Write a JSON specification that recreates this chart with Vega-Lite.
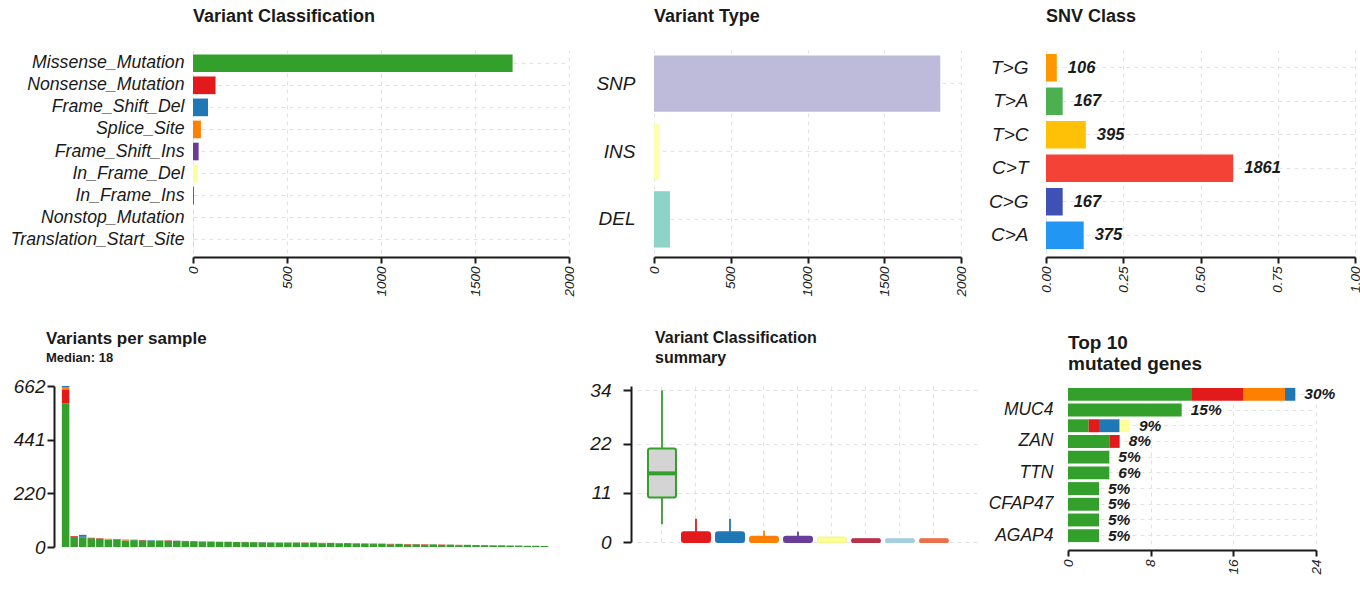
{
  "$schema": "https://vega.github.io/schema/vega-lite/v6.json",
  "background": "white",
  "padding": {"left": 10, "top": 8, "right": 0, "bottom": 0},
  "config": {
    "font": "Liberation Sans",
    "view": {"stroke": null},
    "axis": {"labelFont": "Liberation Sans", "labelFontStyle": "italic", "labelColor": "#1a1a1a", "labelFontSize": 17, "domainColor": "#1a1a1a", "tickColor": "#1a1a1a", "gridColor": "#e2e2e2", "gridDash": [4, 4], "gridWidth": 1},
    "title": {"anchor": "start", "frame": "group", "fontSize": 18, "fontWeight": "bold", "color": "#1a1a1a", "font": "Liberation Sans", "subtitleFont": "Liberation Sans", "subtitleFontWeight": "bold", "subtitleFontSize": 13, "subtitleColor": "#1a1a1a", "subtitlePadding": 4},
    "bar": {"stroke": null}
  },
  "concat": [
    {
      "hconcat": [
        {
          "width": 47,
          "height": 203,
          "data": {"values": []},
          "mark": "point",
          "encoding": {}
        },
        {
          "title": {"text": "Variant Classification", "offset": 24},
          "width": 376,
          "height": 203,
          "data": {"values": [
            {"cls": "Missense_Mutation", "n": 1700},
            {"cls": "Nonsense_Mutation", "n": 120},
            {"cls": "Frame_Shift_Del", "n": 80},
            {"cls": "Splice_Site", "n": 42},
            {"cls": "Frame_Shift_Ins", "n": 30},
            {"cls": "In_Frame_Del", "n": 25},
            {"cls": "In_Frame_Ins", "n": 5},
            {"cls": "Nonstop_Mutation", "n": 1},
            {"cls": "Translation_Start_Site", "n": 1}
          ]},
          "mark": "bar",
          "encoding": {
            "y": {"field": "cls", "type": "nominal", "sort": null, "scale": {"paddingInner": 0.2, "paddingOuter": 0.2}, "axis": {"title": null, "domain": false, "ticks": false, "labelPadding": 9, "labelFontSize": 17.7, "grid": true, "bandPosition": 0.5}},
            "x": {"field": "n", "type": "quantitative", "scale": {"domain": [0, 2000]}, "axis": {"title": null, "values": [0, 500, 1000, 1500, 2000], "format": "d", "labelAngle": -90, "labelFontSize": 13.5, "offset": 4, "grid": true, "domainWidth": 2, "tickSize": 6, "tickWidth": 2, "labelPadding": 3}},
            "color": {"field": "cls", "type": "nominal", "legend": null, "scale": {"domain": ["Missense_Mutation", "Nonsense_Mutation", "Frame_Shift_Del", "Splice_Site", "Frame_Shift_Ins", "In_Frame_Del", "In_Frame_Ins", "Nonstop_Mutation", "Translation_Start_Site"], "range": ["#33A02C", "#E31A1C", "#1F78B4", "#FF7F00", "#6A3D9A", "#FFFF99", "#B83249", "#A6CEE3", "#E8704A"]}}
          }
        },
        {
          "title": {"text": "Variant Type", "offset": 24},
          "width": 307,
          "height": 203,
          "data": {"values": [
            {"type": "SNP", "n": 1865},
            {"type": "INS", "n": 37},
            {"type": "DEL", "n": 104}
          ]},
          "mark": "bar",
          "encoding": {
            "y": {"field": "type", "type": "nominal", "sort": null, "scale": {"paddingInner": 0.17, "paddingOuter": 0.08}, "axis": {"title": null, "domain": false, "ticks": false, "labelPadding": 19, "labelFontSize": 19, "grid": true, "bandPosition": 0.5}},
            "x": {"field": "n", "type": "quantitative", "scale": {"domain": [0, 2000]}, "axis": {"title": null, "values": [0, 500, 1000, 1500, 2000], "format": "d", "labelAngle": -90, "labelFontSize": 13.5, "offset": 4, "grid": true, "domainWidth": 2, "tickSize": 6, "tickWidth": 2, "labelPadding": 3}},
            "color": {"field": "type", "type": "nominal", "legend": null, "scale": {"domain": ["SNP", "INS", "DEL"], "range": ["#BEBADA", "#FFFFB3", "#8DD3C7"]}}
          }
        },
        {
          "title": {"text": "SNV Class", "offset": 24},
          "width": 309,
          "height": 203,
          "data": {"values": [
            {"snv": "T>G", "n": 106, "frac": 0.035},
            {"snv": "T>A", "n": 167, "frac": 0.054},
            {"snv": "T>C", "n": 395, "frac": 0.129},
            {"snv": "C>T", "n": 1861, "frac": 0.606},
            {"snv": "C>G", "n": 167, "frac": 0.054},
            {"snv": "C>A", "n": 375, "frac": 0.122}
          ]},
          "encoding": {
            "y": {"field": "snv", "type": "nominal", "sort": null, "scale": {"paddingInner": 0.18, "paddingOuter": 0.12}, "axis": {"title": null, "domain": false, "ticks": false, "labelPadding": 18, "labelFontSize": 19, "grid": true, "bandPosition": 0.5}},
            "x": {"field": "frac", "type": "quantitative", "scale": {"domain": [0, 1]}, "axis": {"title": null, "values": [0, 0.25, 0.5, 0.75, 1], "format": ".2f", "labelAngle": -90, "labelFontSize": 13.5, "offset": 4, "grid": true, "domainWidth": 2, "tickSize": 6, "tickWidth": 2, "labelPadding": 3}}
          },
          "layer": [
            {
              "mark": "bar",
              "encoding": {
                "color": {"field": "snv", "type": "nominal", "legend": null, "scale": {"domain": ["T>G", "T>A", "T>C", "C>T", "C>G", "C>A"], "range": ["#FF9800", "#4CAF50", "#FFC107", "#F44336", "#3F51B5", "#2196F3"]}}
              }
            },
            {
              "mark": {"type": "text", "align": "left", "dx": 11, "fontSize": 16.5, "fontWeight": "bold", "fontStyle": "italic", "color": "#1a1a1a"},
              "encoding": {"text": {"field": "n", "type": "quantitative"}}
            }
          ]
        }
      ],
      "spacing": 85,
      "bounds": "flush",
      "resolve": {"scale": {"color": "independent"}}
    },
    {
      "hconcat": [
        {
          "title": {"text": "Variants per sample", "subtitle": "Median: 18", "offset": 11, "dx": -15, "fontSize": 17},
          "width": 488,
          "height": 161,
          "data": {"values": [
            {"s": 1, "Missense_Mutation": 590, "Nonsense_Mutation": 58, "Splice_Site": 8, "Frame_Shift_Del": 6},
            {"s": 2, "Missense_Mutation": 42, "Nonsense_Mutation": 3},
            {"s": 3, "Missense_Mutation": 40, "Nonsense_Mutation": 2, "Frame_Shift_Del": 8},
            {"s": 4, "Missense_Mutation": 36, "Nonsense_Mutation": 2},
            {"s": 5, "Missense_Mutation": 34, "Nonsense_Mutation": 2},
            {"s": 6, "Missense_Mutation": 30, "Splice_Site": 4},
            {"s": 7, "Missense_Mutation": 31, "Nonsense_Mutation": 2},
            {"s": 8, "Missense_Mutation": 27, "Splice_Site": 4},
            {"s": 9, "Missense_Mutation": 28, "Frame_Shift_Del": 2},
            {"s": 10, "Missense_Mutation": 27, "Nonsense_Mutation": 2},
            {"s": 11, "Missense_Mutation": 26, "Frame_Shift_Del": 2},
            {"s": 12, "Missense_Mutation": 27},
            {"s": 13, "Missense_Mutation": 25, "Nonsense_Mutation": 2},
            {"s": 14, "Missense_Mutation": 25, "Frame_Shift_Ins": 1},
            {"s": 15, "Missense_Mutation": 24, "Nonsense_Mutation": 1},
            {"s": 16, "Missense_Mutation": 24},
            {"s": 17, "Missense_Mutation": 22, "Splice_Site": 2},
            {"s": 18, "Missense_Mutation": 22, "Nonsense_Mutation": 1},
            {"s": 19, "Missense_Mutation": 22},
            {"s": 20, "Missense_Mutation": 21, "Frame_Shift_Del": 1},
            {"s": 21, "Missense_Mutation": 21},
            {"s": 22, "Missense_Mutation": 20, "Nonsense_Mutation": 1},
            {"s": 23, "Missense_Mutation": 20},
            {"s": 24, "Missense_Mutation": 19, "Frame_Shift_Ins": 1},
            {"s": 25, "Missense_Mutation": 19},
            {"s": 26, "Missense_Mutation": 18, "Nonsense_Mutation": 1},
            {"s": 27, "Missense_Mutation": 19},
            {"s": 28, "Missense_Mutation": 18},
            {"s": 29, "Missense_Mutation": 17, "Nonsense_Mutation": 1},
            {"s": 30, "Missense_Mutation": 18},
            {"s": 31, "Missense_Mutation": 15, "Nonsense_Mutation": 2},
            {"s": 32, "Missense_Mutation": 17},
            {"s": 33, "Missense_Mutation": 14, "Nonsense_Mutation": 2},
            {"s": 34, "Missense_Mutation": 16},
            {"s": 35, "Missense_Mutation": 13, "Nonsense_Mutation": 2},
            {"s": 36, "Missense_Mutation": 14, "Frame_Shift_Del": 1},
            {"s": 37, "Missense_Mutation": 12, "Nonsense_Mutation": 2},
            {"s": 38, "Missense_Mutation": 14},
            {"s": 39, "Missense_Mutation": 11, "Nonsense_Mutation": 2},
            {"s": 40, "Missense_Mutation": 13},
            {"s": 41, "Missense_Mutation": 10, "Nonsense_Mutation": 2},
            {"s": 42, "Missense_Mutation": 11, "Nonsense_Mutation": 1},
            {"s": 43, "Missense_Mutation": 9, "Nonsense_Mutation": 2},
            {"s": 44, "Missense_Mutation": 11},
            {"s": 45, "Missense_Mutation": 8, "Nonsense_Mutation": 2},
            {"s": 46, "Missense_Mutation": 10},
            {"s": 47, "Missense_Mutation": 7, "Nonsense_Mutation": 2},
            {"s": 48, "Missense_Mutation": 9},
            {"s": 49, "Missense_Mutation": 8},
            {"s": 50, "Missense_Mutation": 6, "Nonsense_Mutation": 2},
            {"s": 51, "Missense_Mutation": 7},
            {"s": 52, "Missense_Mutation": 7},
            {"s": 53, "Missense_Mutation": 6},
            {"s": 54, "Missense_Mutation": 6},
            {"s": 55, "Missense_Mutation": 5},
            {"s": 56, "Missense_Mutation": 5},
            {"s": 57, "Missense_Mutation": 4}
          ]},
          "transform": [
            {"fold": ["Missense_Mutation", "Nonsense_Mutation", "Splice_Site", "Frame_Shift_Del", "Frame_Shift_Ins"], "as": ["cls", "n"]},
            {"filter": "datum.n > 0"},
            {"lookup": "cls", "from": {"data": {"values": [
              {"cls": "Missense_Mutation", "k": 1},
              {"cls": "Nonsense_Mutation", "k": 2},
              {"cls": "Splice_Site", "k": 3},
              {"cls": "Frame_Shift_Del", "k": 4},
              {"cls": "Frame_Shift_Ins", "k": 5}
            ]}, "key": "cls", "fields": ["k"]}}
          ],
          "mark": "bar",
          "encoding": {
            "x": {"field": "s", "type": "ordinal", "scale": {"paddingInner": 0.12, "paddingOuter": 0.1}, "axis": null},
            "y": {"field": "n", "type": "quantitative", "stack": "zero", "scale": {"domain": [0, 662]}, "axis": {"title": null, "values": [0, 220, 441, 662], "offset": 7, "grid": false, "domainWidth": 2, "tickSize": 7, "tickWidth": 2, "labelPadding": 2, "labelFontSize": 19}},
            "order": {"field": "k", "type": "quantitative", "sort": "ascending"},
            "color": {"field": "cls", "type": "nominal", "legend": null, "scale": {"domain": ["Missense_Mutation", "Nonsense_Mutation", "Splice_Site", "Frame_Shift_Del", "Frame_Shift_Ins"], "range": ["#33A02C", "#E31A1C", "#FF7F00", "#1F78B4", "#6A3D9A"]}}
          }
        },
        {
          "title": {"text": ["Variant Classification", "summary"], "offset": 15, "dx": 18, "lineHeight": 20, "fontSize": 16},
          "width": 343,
          "height": 156,
          "data": {"values": [
            {"cls": "Missense_Mutation", "lo": 4, "q1": 10, "med": 15.4, "q3": 21, "hi": 34},
            {"cls": "Nonsense_Mutation", "lo": 0, "q1": 0, "med": 1, "q3": 2.2, "hi": 5.2},
            {"cls": "Frame_Shift_Del", "lo": 0, "q1": 0, "med": 1, "q3": 2.2, "hi": 5.2},
            {"cls": "Splice_Site", "lo": 0, "q1": 0, "med": 0.5, "q3": 1.2, "hi": 2.5},
            {"cls": "Frame_Shift_Ins", "lo": 0, "q1": 0, "med": 0.5, "q3": 1.2, "hi": 2.3},
            {"cls": "In_Frame_Del", "lo": 0, "q1": 0, "med": 0.5, "q3": 1, "hi": 1},
            {"cls": "In_Frame_Ins", "lo": 0, "q1": 0, "med": 0.3, "q3": 0.6, "hi": 0.6},
            {"cls": "Nonstop_Mutation", "lo": 0, "q1": 0, "med": 0.3, "q3": 0.6, "hi": 0.6},
            {"cls": "Translation_Start_Site", "lo": 0, "q1": 0, "med": 0.3, "q3": 0.6, "hi": 0.6}
          ]},
          "encoding": {
            "x": {"field": "cls", "type": "nominal", "sort": null, "scale": {"paddingInner": 0, "paddingOuter": 0.544, "align": 0.216}, "axis": {"title": null, "labels": false, "ticks": false, "domain": false, "grid": true, "bandPosition": 0.5}},
            "color": {"field": "cls", "type": "nominal", "legend": null, "scale": {"domain": ["Missense_Mutation", "Nonsense_Mutation", "Frame_Shift_Del", "Splice_Site", "Frame_Shift_Ins", "In_Frame_Del", "In_Frame_Ins", "Nonstop_Mutation", "Translation_Start_Site"], "range": ["#33A02C", "#E31A1C", "#1F78B4", "#FF7F00", "#6A3D9A", "#FFFF99", "#B83249", "#A6CEE3", "#E8704A"]}}
          },
          "layer": [
            {
              "mark": {"type": "rule", "strokeWidth": 1.8},
              "encoding": {
                "y": {"field": "lo", "type": "quantitative", "scale": {"domain": [0, 34]}, "axis": {"title": null, "values": [0, 11, 22, 34], "offset": 6, "grid": true, "domainWidth": 2, "tickSize": 8, "tickWidth": 2, "labelPadding": 12, "labelFontSize": 19}},
                "y2": {"field": "hi"}
              }
            },
            {
              "mark": {"type": "bar", "size": 28, "strokeWidth": 2, "cornerRadius": 2},
              "encoding": {
                "y": {"field": "q1", "type": "quantitative"},
                "y2": {"field": "q3"},
                "stroke": {"field": "cls", "type": "nominal", "legend": null, "scale": {"domain": ["Missense_Mutation", "Nonsense_Mutation", "Frame_Shift_Del", "Splice_Site", "Frame_Shift_Ins", "In_Frame_Del", "In_Frame_Ins", "Nonstop_Mutation", "Translation_Start_Site"], "range": ["#33A02C", "#E31A1C", "#1F78B4", "#FF7F00", "#6A3D9A", "#F5F58A", "#B83249", "#A6CEE3", "#E8704A"]}},
                "fill": {"condition": {"test": "datum.cls === 'Missense_Mutation'", "value": "#d4d4d4"}, "field": "cls", "type": "nominal", "legend": null, "scale": {"domain": ["Missense_Mutation", "Nonsense_Mutation", "Frame_Shift_Del", "Splice_Site", "Frame_Shift_Ins", "In_Frame_Del", "In_Frame_Ins", "Nonstop_Mutation", "Translation_Start_Site"], "range": ["#33A02C", "#E31A1C", "#1F78B4", "#FF7F00", "#6A3D9A", "#FFFF99", "#B83249", "#A6CEE3", "#E8704A"]}}
              }
            },
            {
              "mark": {"type": "tick", "size": 28, "thickness": 4, "opacity": 1},
              "encoding": {
                "y": {"field": "med", "type": "quantitative"}
              }
            }
          ]
        },
        {
          "title": {"text": ["Top 10", "mutated genes"], "offset": 11, "lineHeight": 21, "fontSize": 19},
          "width": 248,
          "height": 158,
          "encoding": {
            "y": {"field": "rank", "type": "ordinal", "scale": {"domain": [1, 2, 3, 4, 5, 6, 7, 8, 9, 10], "paddingInner": 0.18, "paddingOuter": 0.12}, "axis": {"title": null, "domain": false, "ticks": false, "grid": true, "bandPosition": 0.5, "labelPadding": 15, "labelFontSize": 17.5, "labelExpr": "datum.value == 2 ? 'MUC4' : datum.value == 4 ? 'ZAN' : datum.value == 6 ? 'TTN' : datum.value == 8 ? 'CFAP47' : datum.value == 10 ? 'AGAP4' : ''"}}
          },
          "layer": [
            {
              "data": {"values": [
                {"rank": 1, "cls": "Missense_Mutation", "n": 12},
                {"rank": 1, "cls": "Nonsense_Mutation", "n": 5},
                {"rank": 1, "cls": "Splice_Site", "n": 4},
                {"rank": 1, "cls": "Frame_Shift_Del", "n": 1},
                {"rank": 2, "cls": "Missense_Mutation", "n": 11},
                {"rank": 3, "cls": "Missense_Mutation", "n": 2},
                {"rank": 3, "cls": "Nonsense_Mutation", "n": 1},
                {"rank": 3, "cls": "Frame_Shift_Del", "n": 2},
                {"rank": 3, "cls": "In_Frame_Del", "n": 1},
                {"rank": 4, "cls": "Missense_Mutation", "n": 4},
                {"rank": 4, "cls": "Nonsense_Mutation", "n": 1},
                {"rank": 5, "cls": "Missense_Mutation", "n": 4},
                {"rank": 6, "cls": "Missense_Mutation", "n": 4},
                {"rank": 7, "cls": "Missense_Mutation", "n": 3},
                {"rank": 8, "cls": "Missense_Mutation", "n": 3},
                {"rank": 9, "cls": "Missense_Mutation", "n": 3},
                {"rank": 10, "cls": "Missense_Mutation", "n": 3}
              ]},
              "transform": [
                {"lookup": "cls", "from": {"data": {"values": [
                  {"cls": "Missense_Mutation", "k": 1},
                  {"cls": "Nonsense_Mutation", "k": 2},
                  {"cls": "Splice_Site", "k": 3},
                  {"cls": "Frame_Shift_Del", "k": 4},
                  {"cls": "In_Frame_Del", "k": 5}
                ]}, "key": "cls", "fields": ["k"]}}
              ],
              "mark": "bar",
              "encoding": {
                "x": {"field": "n", "type": "quantitative", "stack": "zero", "scale": {"domain": [0, 24]}, "axis": {"title": null, "values": [0, 8, 16, 24], "labelAngle": -90, "labelFontSize": 13.5, "offset": 6, "grid": true, "domainWidth": 2, "tickSize": 6, "tickWidth": 2, "labelPadding": 3}},
                "order": {"field": "k", "type": "quantitative", "sort": "ascending"},
                "color": {"field": "cls", "type": "nominal", "legend": null, "scale": {"domain": ["Missense_Mutation", "Nonsense_Mutation", "Splice_Site", "Frame_Shift_Del", "In_Frame_Del"], "range": ["#33A02C", "#E31A1C", "#FF7F00", "#1F78B4", "#FFFF99"]}}
              }
            },
            {
              "data": {"values": [
                {"rank": 1, "total": 22, "pct": "30%"},
                {"rank": 2, "total": 11, "pct": "15%"},
                {"rank": 3, "total": 6, "pct": "9%"},
                {"rank": 4, "total": 5, "pct": "8%"},
                {"rank": 5, "total": 4, "pct": "5%"},
                {"rank": 6, "total": 4, "pct": "6%"},
                {"rank": 7, "total": 3, "pct": "5%"},
                {"rank": 8, "total": 3, "pct": "5%"},
                {"rank": 9, "total": 3, "pct": "5%"},
                {"rank": 10, "total": 3, "pct": "5%"}
              ]},
              "mark": {"type": "text", "align": "left", "dx": 9, "fontSize": 15.5, "fontWeight": "bold", "fontStyle": "italic", "color": "#1a1a1a"},
              "encoding": {
                "x": {"field": "total", "type": "quantitative"},
                "text": {"field": "pct", "type": "nominal"}
              }
            }
          ]
        }
      ],
      "spacing": 88,
      "bounds": "flush",
      "resolve": {"scale": {"color": "independent"}}
    }
  ],
  "columns": 1,
  "spacing": 33,
  "resolve": {"scale": {"color": "independent"}}
}
